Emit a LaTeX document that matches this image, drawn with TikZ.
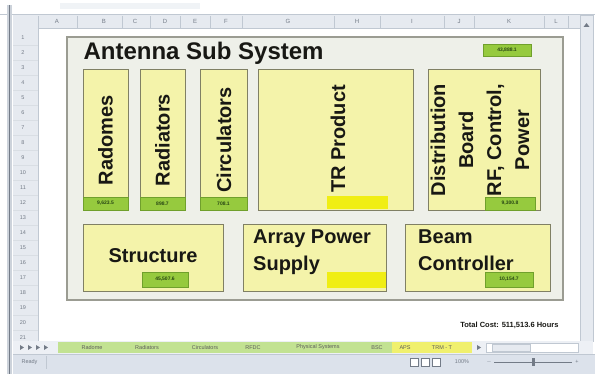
\documentclass[tikz,border=0pt]{standalone}
\usepackage{fontspec}
\setmainfont{Liberation Sans}
\definecolor{ink}{RGB}{24,24,20}
\definecolor{boxfill}{RGB}{244,243,170}
\definecolor{boxline}{RGB}{128,128,100}
\definecolor{framefill}{RGB}{238,240,233}
\definecolor{frameline}{RGB}{155,156,146}
\definecolor{badgefill}{RGB}{150,202,62}
\definecolor{badgeline}{RGB}{112,160,44}
\definecolor{badgetext}{RGB}{40,70,20}
\definecolor{hiyellow}{RGB}{240,238,20}
\definecolor{hdrfill}{RGB}{230,234,240}
\definecolor{hdrline}{RGB}{192,200,210}
\definecolor{hdrtext}{RGB}{115,123,135}
\definecolor{tabgreen}{RGB}{194,226,146}
\definecolor{tabyellow}{RGB}{240,240,110}
\definecolor{statusfill}{RGB}{220,226,235}
\begin{document}
\begin{tikzpicture}[x=1pt,y=-1pt,
  unit/.style={draw=boxline,line width=1.4pt,fill=boxfill,inner sep=0pt,anchor=north west},
  badge/.style={draw=badgeline,line width=0.8pt,fill=badgefill,inner sep=0pt,
    text=badgetext,font=\bfseries\fontsize{5}{6}\selectfont},
  hilite/.style={fill=hiyellow},
  vlabel/.style={rotate=90,text=ink,font=\bfseries\fontsize{20}{28}\selectfont,align=center},
  hlabel/.style={text=ink,font=\bfseries\fontsize{20}{27}\selectfont,align=left},
  colhead/.style={text=hdrtext,font=\fontsize{6}{7}\selectfont},
  rowhead/.style={text=hdrtext,font=\fontsize{5.5}{6}\selectfont},
  tabname/.style={text=ink!70,font=\fontsize{5.5}{6}\selectfont},
  chrome/.style={text=hdrtext,font=\fontsize{5.5}{6}\selectfont}]
\useasboundingbox (0,0) rectangle (595,374);
\fill[white] (0,0) rectangle (595,374);

% ---------- spreadsheet window ----------
\fill[hdrfill!60] (60,3) rectangle (200,9);
\draw[hdrline,line width=0.6pt] (0,14) -- (595,14);
% column header band
\fill[hdrfill] (13,15) rectangle (580,28);
\draw[hdrline,line width=0.5pt] (13,28) -- (580,28);
\foreach \cx in {38,77,122,150,180,210,242,334,380,444,474,544,568}
  \draw[hdrline,line width=0.4pt] (\cx,16) -- (\cx,28);
\foreach \cl/\cx in {A/57,B/104,C/135,D/165,E/195,F/226,G/288,H/357,I/412,J/459,K/509,L/556}
  \node[colhead] (col\cl) at (\cx,21.5) {\cl};
% row header band
\fill[hdrfill] (13,28) rectangle (38,341);
\draw[hdrline,line width=0.5pt] (38,28) -- (38,341);
\foreach \r in {1,...,21}{
  \node[rowhead] (row\r) at (23,23+15*\r) {\r};
  \draw[hdrline!60,line width=0.3pt] (13,30.5+15*\r) -- (38,30.5+15*\r);
}
% window edge on the left
\fill[hdrline!80] (7,5) rectangle (12,374);
\draw[hdrtext,line width=0.6pt] (9.5,5) -- (9.5,374);
% vertical scroll bar
\fill[hdrfill] (580,15) rectangle (593,341);
\draw[hdrline,line width=0.4pt] (580,15) rectangle (593,341);
\fill[hdrtext] (583.5,27) -- (589.5,27) -- (586.5,23) -- cycle;

% sheet tabs
\fill[hdrfill!70] (13,341) rectangle (593,354);
\foreach \ax in {20,28,36,44}
  \fill[hdrtext] (\ax,345) -- (\ax,350) -- (\ax+4,347.5) -- cycle;
\fill[tabgreen] (58,342) rectangle (392,353);
\fill[tabyellow] (392,342) rectangle (472,353);
\foreach \tn/\tx in {Radome/92,Radiators/147,Circulators/205,RFDC/253,Physical Systems/318,BSC/377,APS/405,TRM - T/442}
  \node[tabname] (tab\tx) at (\tx,347.5) {\tn};
\fill[hdrtext] (477,345) -- (477,350) -- (481,347.5) -- cycle;
\draw[hdrline,fill=white,line width=0.4pt] (486,343) rectangle (578,352);
\draw[hdrline,fill=hdrfill,line width=0.4pt] (492,344) rectangle (530,351);
% status bar
\fill[statusfill] (13,354) rectangle (595,374);
\draw[hdrline,line width=0.5pt] (13,354) -- (595,354);
\node[chrome,anchor=west] (ready) at (18,362) {Ready};
\draw[hdrline,line width=0.4pt] (46,356) -- (46,369);
\foreach \ix in {410,421,432}
  \draw[hdrtext,line width=0.4pt,fill=white] (\ix,358) rectangle (\ix+8,366);
\node[chrome] (zoompct) at (462,362) {100\%};
\node[chrome] (zoomminus) at (489,362) {$-$};
\draw[hdrtext,line width=0.5pt] (494,362) -- (572,362);
\fill[hdrtext] (532,358) rectangle (534.5,366);
\node[chrome] (zoomplus) at (577,362) {+};

% ---------- Antenna Sub System diagram ----------
\draw[frameline,fill=framefill,line width=1.2pt] (67,37) rectangle (563,300);
\node[anchor=base west,text=ink,font=\bfseries\fontsize{24}{28}\selectfont] (title) at (80,60) {Antenna Sub System};
\node[badge,minimum width=48pt,minimum height=12pt] (total) at (507,50) {43,888.1};

% upper row of units
\node[unit,minimum width=45pt,minimum height=141pt] (radomes) at (83,69) {};
\node[unit,minimum width=45pt,minimum height=141pt] (radiators) at (140,69) {};
\node[unit,minimum width=47pt,minimum height=141pt] (circulators) at (200,69) {};
\node[unit,minimum width=155pt,minimum height=141pt] (tr) at (258,69) {};
\node[unit,minimum width=112pt,minimum height=141pt] (dist) at (428,69) {};
% lower row of units
\node[unit,minimum width=140pt,minimum height=67pt] (structure) at (83,224) {};
\node[unit,minimum width=143pt,minimum height=67pt] (aps) at (243,224) {};
\node[unit,minimum width=145pt,minimum height=67pt] (beam) at (405,224) {};

% cost cells
\node[badge,minimum width=45pt,minimum height=13pt] (radomescost) at (105.5,203.5) {9,623.5};
\node[badge,minimum width=45pt,minimum height=13pt] (radiatorscost) at (162.5,203.5) {898.7};
\node[badge,minimum width=47pt,minimum height=13pt] (circulatorscost) at (223.5,203.5) {708.1};
\node[badge,minimum width=50pt,minimum height=13pt] (distcost) at (510,203.5) {9,300.8};
\node[badge,minimum width=46pt,minimum height=15pt] (structurecost) at (165,279.5) {45,507.6};
\node[badge,minimum width=48pt,minimum height=15pt] (beamcost) at (509,279.5) {10,154.7};
\fill[hilite] (327,196) rectangle (388,209);
\fill[hilite] (327,272) rectangle (386,288);

% unit names
\node[vlabel] (radomeslabel) at (105.5,140) {Radomes};
\node[vlabel] (radiatorslabel) at (162.5,140) {Radiators};
\node[vlabel] (circulatorslabel) at (224,140) {Circulators};
\node[vlabel] (trlabel) at (338,139) {TR Product};
\node[vlabel] (distlabel) at (480,140) {Distribution\\Board\\RF, Control,\\Power};
\node[text=ink,font=\bfseries\fontsize{20}{24}\selectfont] (structurelabel) at (153,256) {Structure};
\node[hlabel,anchor=north west,inner sep=0pt] (apslabel) at (253,230) {Array Power\\Supply};
\node[hlabel,anchor=north west,inner sep=0pt] (beamlabel) at (418,230) {Beam\\Controller};

\node[anchor=east,text=ink,font=\bfseries\fontsize{7.5}{9}\selectfont] (totalcost) at (562,325) {Total Cost: 511,513.6 Hours};
\end{tikzpicture}
\end{document}
